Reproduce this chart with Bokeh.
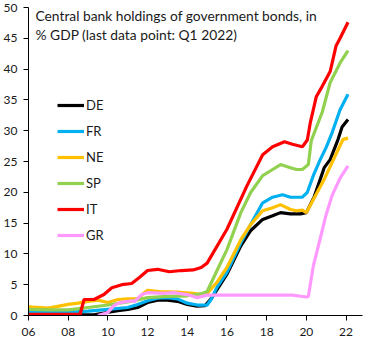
from bokeh.plotting import figure
from bokeh.models import Range1d, FixedTicker, Legend, LegendItem, Label
from bokeh.embed import file_html
from bokeh.resources import INLINE

# ---- data (decimal years, % of GDP) ----
tick_years = [2006, 2008, 2010, 2012, 2014, 2016, 2018, 2020, 2022]
tick_labels = ["06", "08", "10", "12", "14", "16", "18", "20", "22"]
y_ticks = [0, 5, 10, 15, 20, 25, 30, 35, 40, 45, 50]

DE_x = [2006.0, 2009.3, 2009.8, 2010.5, 2011.0, 2011.5, 2012.0, 2012.5, 2013.0, 2013.5, 2014.0, 2014.5,
        2014.9, 2015.2, 2015.5, 2016.0, 2016.7, 2017.2, 2017.8, 2018.3, 2018.7, 2019.2, 2019.7, 2020.0,
        2020.4, 2020.9, 2021.2, 2021.6, 2021.8, 2022.1]
DE_y = [0.1, 0.1, 0.4, 0.8, 1.0, 1.3, 2.1, 2.5, 2.5, 2.3, 1.8, 1.5,
        1.6, 2.7, 4.2, 6.7, 11.3, 13.8, 15.6, 16.2, 16.7, 16.5, 16.5, 16.7,
        19.3, 24.0, 25.3, 28.6, 30.6, 31.8]

FR_x = [2006.0, 2008.0, 2009.0, 2010.0, 2011.0, 2011.5, 2012.0, 2012.5, 2013.0, 2013.5, 2014.0, 2014.5,
        2015.0, 2015.2, 2015.5, 2016.0, 2016.7, 2017.2, 2017.8, 2018.3, 2018.8, 2019.2, 2019.8, 2020.05,
        2020.35, 2020.7, 2021.0, 2021.3, 2021.7, 2022.1]
FR_y = [0.6, 0.5, 0.7, 1.0, 1.3, 1.8, 2.4, 2.8, 2.9, 2.7, 2.0, 1.7,
        1.7, 2.6, 4.6, 7.0, 11.8, 14.8, 18.3, 19.2, 19.6, 19.2, 19.2, 20.0,
        22.7, 25.3, 27.3, 29.7, 33.4, 35.9]

NE_x = [2006.0, 2007.0, 2008.0, 2008.5, 2009.0, 2009.5, 2010.0, 2010.5, 2011.0, 2011.5, 2011.8, 2012.0,
        2012.6, 2013.5, 2014.3, 2014.7, 2015.0, 2015.5, 2016.0, 2016.7, 2017.2, 2017.8, 2018.3, 2018.7,
        2019.2, 2019.5, 2019.8, 2020.0, 2020.9, 2021.7, 2021.85, 2022.1]
NE_y = [1.4, 1.2, 1.8, 2.0, 2.3, 2.5, 2.1, 2.6, 2.7, 2.7, 3.6, 4.1,
        3.9, 3.8, 3.6, 3.4, 3.6, 5.4, 7.8, 12.3, 14.8, 17.0, 17.5, 18.0,
        17.2, 17.0, 17.1, 16.7, 22.1, 27.6, 28.6, 28.8]

SP_x = [2006.0, 2007.0, 2008.0, 2009.0, 2010.0, 2011.0, 2012.0, 2013.0, 2014.0, 2014.7, 2015.0, 2015.5,
        2016.0, 2016.7, 2017.2, 2017.8, 2018.3, 2018.7, 2019.2, 2019.5, 2019.8, 2020.1, 2020.25, 2020.8,
        2021.2, 2021.7, 2022.1]
SP_y = [1.0, 0.9, 0.9, 1.3, 1.7, 2.2, 2.9, 3.1, 3.2, 3.5, 3.9, 7.3,
        10.7, 16.7, 20.0, 22.7, 23.7, 24.5, 24.0, 23.7, 23.7, 24.5, 28.4, 33.0,
        37.8, 41.0, 43.0]

IT_x = [2006.0, 2008.6, 2008.8, 2009.3, 2009.8, 2010.2, 2010.7, 2011.2, 2011.6, 2012.0, 2012.5, 2013.1,
        2013.7, 2014.3, 2014.7, 2015.0, 2016.0, 2017.0, 2017.8, 2018.3, 2018.9, 2019.3, 2019.8, 2020.05,
        2020.2, 2020.5, 2020.8, 2021.2, 2021.5, 2021.7, 2022.1]
IT_y = [0.2, 0.2, 2.6, 2.6, 3.4, 4.5, 5.0, 5.2, 6.2, 7.3, 7.5, 7.1,
        7.3, 7.4, 7.8, 8.5, 14.0, 21.0, 26.1, 27.4, 28.2, 27.8, 27.4, 28.5,
        31.3, 35.5, 37.2, 39.6, 43.8, 45.0, 47.6]

GR_x = [2009.5, 2010.0, 2010.3, 2010.6, 2011.2, 2011.35, 2011.7, 2012.0, 2012.8, 2013.3, 2014.0, 2014.5,
        2015.0, 2019.3, 2020.0, 2020.1, 2020.35, 2020.7, 2021.0, 2021.3, 2021.7, 2022.1]
GR_y = [0.0, 0.5, 1.6, 2.1, 2.4, 2.3, 3.4, 3.7, 3.6, 3.7, 3.4, 2.9,
        3.3, 3.3, 3.0, 3.1, 8.0, 12.5, 16.4, 19.5, 22.3, 24.3]

series = [
    ("DE", DE_x, DE_y, "#000000"),
    ("FR", FR_x, FR_y, "#00B0F0"),
    ("NE", NE_x, NE_y, "#FFC000"),
    ("SP", SP_x, SP_y, "#92D050"),
    ("IT", IT_x, IT_y, "#FF0000"),
    ("GR", GR_x, GR_y, "#FF99FF"),
]

title_lines = ["Central bank holdings of government bonds, in",
               "% GDP (last data point: Q1 2022)"]

FONT = "Lato"

p = figure(width=369, height=344, output_backend="svg", toolbar_location=None,
           x_range=Range1d(2006, 2022.83), y_range=Range1d(0, 50),
           min_border_left=25, min_border_right=7, min_border_top=7, min_border_bottom=29)
p.outline_line_color = None
p.grid.visible = False
p.background_fill_color = "white"
p.border_fill_color = "white"

for ax in (p.xaxis[0], p.yaxis[0]):
    ax.axis_line_color = "black"
    ax.major_tick_line_color = "black"
    ax.minor_tick_line_color = None
    ax.major_tick_in = 0
    ax.major_tick_out = 5
    ax.major_label_text_font = FONT
    ax.major_label_text_font_size = "12px"
    ax.major_label_text_color = "#1a1a1a"

p.xaxis.ticker = FixedTicker(ticks=tick_years)
p.xaxis.major_label_overrides = {y: l for y, l in zip(tick_years, tick_labels)}
p.xaxis.major_label_standoff = 7
p.yaxis.ticker = FixedTicker(ticks=y_ticks)
p.yaxis.major_label_standoff = 6

items = []
for name, xs, ys, col in series:
    r = p.line(xs, ys, line_color=col, line_width=3.2)
    items.append(LegendItem(label=name, renderers=[r]))

legend = Legend(items=items, location=(29, 70), orientation="vertical",
                glyph_width=27, glyph_height=20, label_height=20, label_standoff=2,
                spacing=6, padding=0, margin=0, border_line_color=None,
                background_fill_alpha=0, label_text_font=FONT,
                label_text_font_size="13px", label_text_color="#1a1a1a")
p.add_layout(legend, "center")

for i, t in enumerate(title_lines):
    p.add_layout(Label(x=7, y=308 - 8 - 19 * i, x_units="screen", y_units="screen", text=t,
                       text_font=FONT, text_font_size="13.8px", text_color="#1a1a1a",
                       text_baseline="middle"))

open("out.html", "w").write(file_html(p, INLINE))
